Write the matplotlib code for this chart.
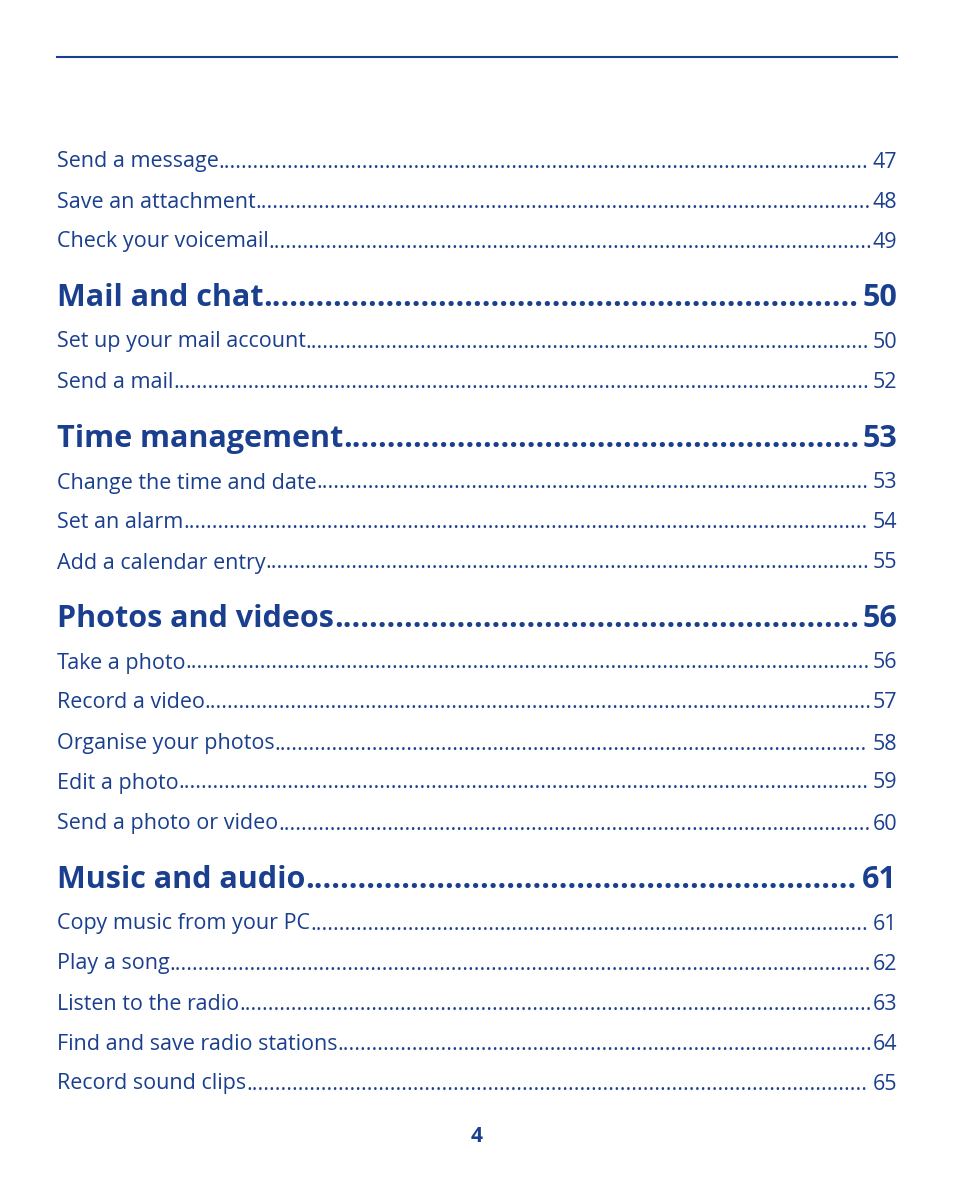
import matplotlib
matplotlib.use("Agg")
import matplotlib.pyplot as plt

BLUE = "#1a3f8f"

titles = ["Send a message", "Save an attachment", "Check your voicemail",
          "Mail and chat", "Set up your mail account", "Send a mail",
          "Time management", "Change the time and date", "Set an alarm",
          "Add a calendar entry", "Photos and videos", "Take a photo",
          "Record a video", "Organise your photos", "Edit a photo",
          "Send a photo or video", "Music and audio", "Copy music from your PC",
          "Play a song", "Listen to the radio", "Find and save radio stations",
          "Record sound clips"]
pages = [47, 48, 49, 50, 50, 52, 53, 53, 54, 55, 56, 56, 57, 58, 59, 60,
         61, 61, 62, 63, 64, 65]
headings = [False, False, False, True, False, False, True, False, False, False,
            True, False, False, False, False, False, True, False, False, False,
            False, False]
rows_y = [162, 202, 242, 298, 342, 382, 439, 483, 523, 563, 619, 663, 703,
          744, 783, 824, 880, 924, 964, 1004, 1044, 1084]

fig = plt.figure(figsize=(9.54, 11.8), dpi=100)
ax = fig.add_axes([0, 0, 1, 1])
ax.set_xlim(0, 954)
ax.set_ylim(1180, 0)
ax.axis("off")

ax.plot([57, 897], [57, 57], color=BLUE, lw=1.5)

fig.canvas.draw()
r = fig.canvas.get_renderer()
inv = ax.transData.inverted()


def width(t):
    bb = t.get_window_extent(renderer=r)
    return inv.transform((bb.x1, 0))[0] - inv.transform((bb.x0, 0))[0]


for title, page, head, y in zip(titles, pages, headings, rows_y):
    kw = dict(color=BLUE, family="Open Sans", va="center",
              fontsize=22 if head else 15.5,
              fontweight="bold" if head else "normal")
    t = ax.text(57, y, title, ha="left", **kw)
    p = ax.text(897, y, str(page), ha="right", **kw)
    start = 57 + width(t)
    end = 897 - width(p)
    probe = ax.text(0, 0, "." * 20, **kw)
    dw = width(probe) / 20
    probe.remove()
    n = int((end - start) / dw)
    ax.text(start, y, "." * n, ha="left", **kw)

ax.text(477, 1137, "4", ha="center", va="center", color=BLUE,
        family="Open Sans", fontsize=15, fontweight="bold")

fig.savefig("out.png", dpi=100)
